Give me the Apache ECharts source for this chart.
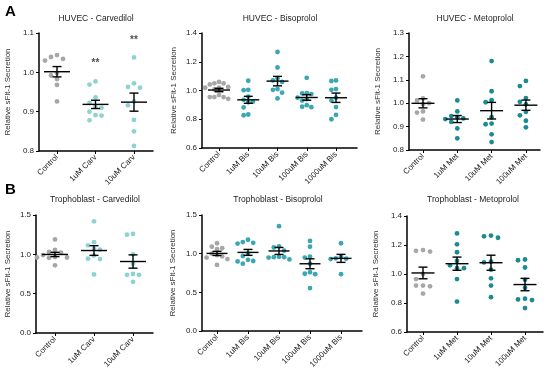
<!DOCTYPE html>
<html><head><meta charset="utf-8">
<script src="https://cdn.jsdelivr.net/npm/echarts@6/dist/echarts.min.js"></script>
<style>html,body{margin:0;padding:0;background:#fff}#c{width:550px;height:374px}</style>
</head><body><div id="c"></div><script>
// ---- categories ----
const catsCarv = ['Control', '1uM Carv', '10uM Carv'];
const catsBis = ['Control', '1uM Bis', '10uM Bis', '100uM Bis', '1000uM Bis'];
const catsMet = ['Control', '1uM Met', '10uM Met', '100uM Met'];
// ---- values (relative sFlt-1 secretion), one array per group ----
const huvecCarv = [
  [1.044, 1.039, 1.034, 1.030, 0.998, 0.992, 0.983, 0.968, 0.926],
  [0.977, 0.969, 0.936, 0.922, 0.912, 0.910, 0.900, 0.891, 0.890, 0.878],
  [1.038, 0.972, 0.963, 0.961, 0.926, 0.916, 0.879, 0.850, 0.813]
];
const huvecBis = [
  [1.060, 1.050, 1.049, 1.042, 1.025, 1.019, 1.019, 1.007, 0.968, 0.954, 0.954, 0.954, 0.942],
  [1.068, 1.002, 1.005, 0.958, 0.935, 0.922, 0.918, 0.882, 0.828, 0.833],
  [1.268, 1.160, 1.085, 1.070, 1.060, 1.010, 1.005, 0.985, 0.945],
  [1.088, 0.982, 0.980, 0.975, 0.950, 0.940, 0.930, 0.898, 0.887, 0.884],
  [1.066, 1.070, 1.010, 1.005, 0.950, 0.930, 0.885, 0.830, 0.800]
];
const huvecMet = [
  [1.115, 1.020, 1.012, 1.000, 0.995, 0.965, 0.960, 0.930],
  [1.012, 0.965, 0.945, 0.940, 0.935, 0.932, 0.920, 0.892, 0.850],
  [1.180, 1.051, 1.013, 1.004, 0.940, 0.910, 0.913, 0.867, 0.834],
  [1.095, 1.073, 1.022, 1.006, 0.995, 0.963, 0.948, 0.925, 0.897]
];
const trophCarv = [
  [1.19, 1.055, 1.03, 1.02, 0.99, 0.965, 0.96, 0.96, 0.955, 0.86],
  [1.42, 1.155, 1.115, 1.07, 1.06, 0.985, 0.945, 0.94, 0.745],
  [1.26, 1.25, 1.0, 0.88, 0.75, 0.74, 0.74, 0.65]
];
const trophBis = [
  [1.135, 1.09, 1.07, 1.06, 1.0, 0.98, 0.965, 0.95, 0.93, 0.855],
  [1.18, 1.15, 1.14, 1.13, 1.0, 0.97, 0.92, 0.905, 0.90, 0.87],
  [1.355, 1.095, 1.08, 1.04, 0.96, 0.955, 0.955, 0.95, 0.925],
  [1.165, 1.09, 0.96, 0.95, 0.87, 0.76, 0.735, 0.74, 0.555],
  [1.135, 0.96, 0.94, 0.935, 0.93, 0.735]
];
const trophMet = [
  [1.16, 1.165, 1.155, 1.0, 0.965, 0.92, 0.92, 0.915, 0.865],
  [1.28, 1.205, 1.15, 1.09, 1.06, 1.04, 1.04, 0.965, 0.81],
  [1.26, 1.25, 1.265, 1.085, 1.08, 1.03, 0.97, 0.92, 0.84],
  [1.10, 1.095, 1.045, 0.96, 0.905, 0.83, 0.825, 0.82, 0.765]
];
// significance marks: [category index, value, text]
const sigHuvecCarv = [[1, 1.023, '**'], [2, 1.082, '**']];
// y-axis ticks: [min, max, interval]
const yHuvecCarv = [0.8, 1.1, 0.1];
const yHuvecBis = [0.6, 1.4, 0.2];
const yHuvecMet = [0.8, 1.3, 0.1];
const yTrophCarv = [0, 1.5, 0.5];
const yTrophBis = [0, 1.5, 0.5];
const yTrophMet = [0.6, 1.4, 0.2];
const titles = ['HUVEC - Carvedilol', 'HUVEC - Bisoprolol', 'HUVEC - Metoprolol',
  'Trophoblast - Carvedilol', 'Trophoblast - Bisoprolol', 'Trophoblast - Metoprolol'];
const yName = 'Relative sFlt-1 Secretion';

// ---- styling / layout ----
const FONT = 'Liberation Sans, Arial, sans-serif';
const GRAY = '#a7a7a7', CARV = '#8fd2d4', BIS = '#3aa7b2', MET = '#1a8b91';
const panels = [
  { data: huvecCarv, cats: catsCarv, y: yHuvecCarv, col: CARV, sig: sigHuvecCarv, l: 39, t: 33, r: 153, b: 151, x0: 57, sp: 38.5, gap: 27, tx: 96, ty: 19, mh: 13, step: 6 },
  { data: huvecBis, cats: catsBis, y: yHuvecBis, col: BIS, l: 202, t: 33, r: 357, b: 148, x0: 219, sp: 29.25, gap: 24, tx: 280, ty: 19, mh: 11, step: 4.6 },
  { data: huvecMet, cats: catsMet, y: yHuvecMet, col: MET, l: 409, t: 33, r: 540, b: 150, x0: 423, sp: 34.3, gap: 27, tx: 475, ty: 19, mh: 11.5, step: 6 },
  { data: trophCarv, cats: catsCarv, y: yTrophCarv, col: CARV, l: 36, t: 215, r: 153, b: 333, x0: 55, sp: 39, gap: 24, tx: 95, ty: 200, mh: 13, step: 6 },
  { data: trophBis, cats: catsBis, y: yTrophBis, col: BIS, l: 202, t: 215, r: 362, b: 331, x0: 217, sp: 31, gap: 25, tx: 278, ty: 200, mh: 10.5, step: 5.2 },
  { data: trophMet, cats: catsMet, y: yTrophMet, col: MET, l: 407, t: 216, r: 543, b: 332, x0: 423, sp: 34, gap: 27, tx: 473, ty: 200, mh: 11.5, step: 7 }
];
const DOT = 4.8, ROW = 5.6;

// row-style beeswarm (pixel offsets), like a scatter dot plot
function swarm(vals, pxPerY, step) {
  const idx = vals.map((v, i) => i).sort((a, b) => vals[b] - vals[a]);
  const placed = [], off = new Array(vals.length).fill(0);
  for (const i of idx) {
    const y = vals[i] * pxPerY;
    let chosen = 0;
    for (let k = 0; k < 60; k++) {
      const cands = k === 0 ? [0] : [-k * step / 2, k * step / 2];
      let ok = null;
      for (const c of cands) {
        if (placed.every(p => Math.abs(p.y - y) >= ROW || Math.abs(p.x - c) >= step - 0.01)) { ok = c; break; }
      }
      if (ok !== null) { chosen = ok; break; }
    }
    placed.push({ x: chosen, y }); off[i] = chosen;
  }
  return off;
}
function meanSem(v) {
  const n = v.length, m = v.reduce((a, b) => a + b, 0) / n;
  const sd = Math.sqrt(v.reduce((a, b) => a + (b - m) * (b - m), 0) / (n - 1));
  return [m, sd / Math.sqrt(n)];
}

const grid = [], xAxis = [], yAxis = [], series = [], graphic = [];
panels.forEach((P, pi) => {
  const W = P.r - P.l, H = P.b - P.t;
  const xmin = -(P.x0 - P.l) / P.sp, xmax = (P.r - P.x0) / P.sp;
  const pxPerY = H / (P.y[1] - P.y[0]);
  const idxs = P.cats.map((c, i) => i);
  grid.push({ left: P.l, top: P.t, width: W, height: H, containLabel: false });
  xAxis.push({
    type: 'value', gridIndex: pi, min: xmin, max: xmax,
    axisLine: { show: true, onZero: false, lineStyle: { color: '#000', width: 1.5 } },
    axisTick: { show: true, customValues: idxs, length: 3, lineStyle: { color: '#000', width: 1 } },
    axisLabel: { customValues: idxs, rotate: 45, margin: 5, fontSize: 8, color: '#222', fontFamily: FONT,
      formatter: v => P.cats[Math.round(v)] },
    splitLine: { show: false }
  });
  yAxis.push({
    type: 'value', gridIndex: pi, min: P.y[0], max: P.y[1], interval: P.y[2],
    name: yName, nameLocation: 'middle', nameGap: P.gap, nameRotate: 90,
    nameTextStyle: { fontSize: 8, color: '#333', fontFamily: FONT },
    axisLine: { show: true, onZero: false, lineStyle: { color: '#000', width: 1.5 } },
    axisTick: { show: true, length: 3, lineStyle: { color: '#000', width: 1 } },
    axisLabel: { fontSize: 8, color: '#222', margin: 5, fontFamily: FONT, formatter: v => v.toFixed(1) },
    splitLine: { show: false }
  });
  // dots
  P.data.forEach((vals, gi) => {
    const off = swarm(vals, pxPerY, P.step);
    series.push({
      type: 'scatter', xAxisIndex: pi, yAxisIndex: pi, symbolSize: DOT, silent: true,
      itemStyle: { color: gi === 0 ? GRAY : P.col, opacity: 1 },
      data: vals.map((v, i) => [gi + off[i] / P.sp, v])
    });
  });
  // mean +/- SEM
  series.push({
    type: 'custom', xAxisIndex: pi, yAxisIndex: pi, silent: true, z: 10,
    data: P.data.map((vals, gi) => { const ms = meanSem(vals); return [gi, ms[0], ms[1]]; }),
    renderItem: (params, api) => {
      const x = api.value(0), m = api.value(1), s = api.value(2);
      const c = api.coord([x, m]), tp = api.coord([x, m + s]), bt = api.coord([x, m - s]);
      const st = { stroke: '#000', lineWidth: 1.4 };
      const cw = 4.5;
      return { type: 'group', children: [
        { type: 'line', shape: { x1: c[0] - P.mh, y1: c[1], x2: c[0] + P.mh, y2: c[1] }, style: st },
        { type: 'line', shape: { x1: tp[0], y1: tp[1], x2: bt[0], y2: bt[1] }, style: st },
        { type: 'line', shape: { x1: tp[0] - cw, y1: tp[1], x2: tp[0] + cw, y2: tp[1] }, style: st },
        { type: 'line', shape: { x1: bt[0] - cw, y1: bt[1], x2: bt[0] + cw, y2: bt[1] }, style: st }
      ] };
    }
  });
  if (P.sig) {
    series.push({
      type: 'scatter', xAxisIndex: pi, yAxisIndex: pi, symbolSize: 1, silent: true,
      itemStyle: { color: 'rgba(0,0,0,0)' },
      label: { show: true, position: 'inside', formatter: p => p.data[2], fontSize: 10, fontWeight: 'bold', color: '#222', fontFamily: FONT },
      data: P.sig
    });
  }
  graphic.push({ type: 'text', x: P.tx, y: P.ty, style: { text: titles[pi], fill: '#222', font: '8.5px ' + FONT, align: 'center', verticalAlign: 'middle' } });
});
graphic.push({ type: 'text', x: 5, y: 4, style: { text: 'A', fill: '#000', font: 'bold 15px ' + FONT } });
graphic.push({ type: 'text', x: 5, y: 182, style: { text: 'B', fill: '#000', font: 'bold 15px ' + FONT } });

const chart = echarts.init(document.getElementById('c'), null, { renderer: 'canvas' });
chart.setOption({ animation: false, backgroundColor: '#fff', grid, xAxis, yAxis, series, graphic });
</script></body></html>
